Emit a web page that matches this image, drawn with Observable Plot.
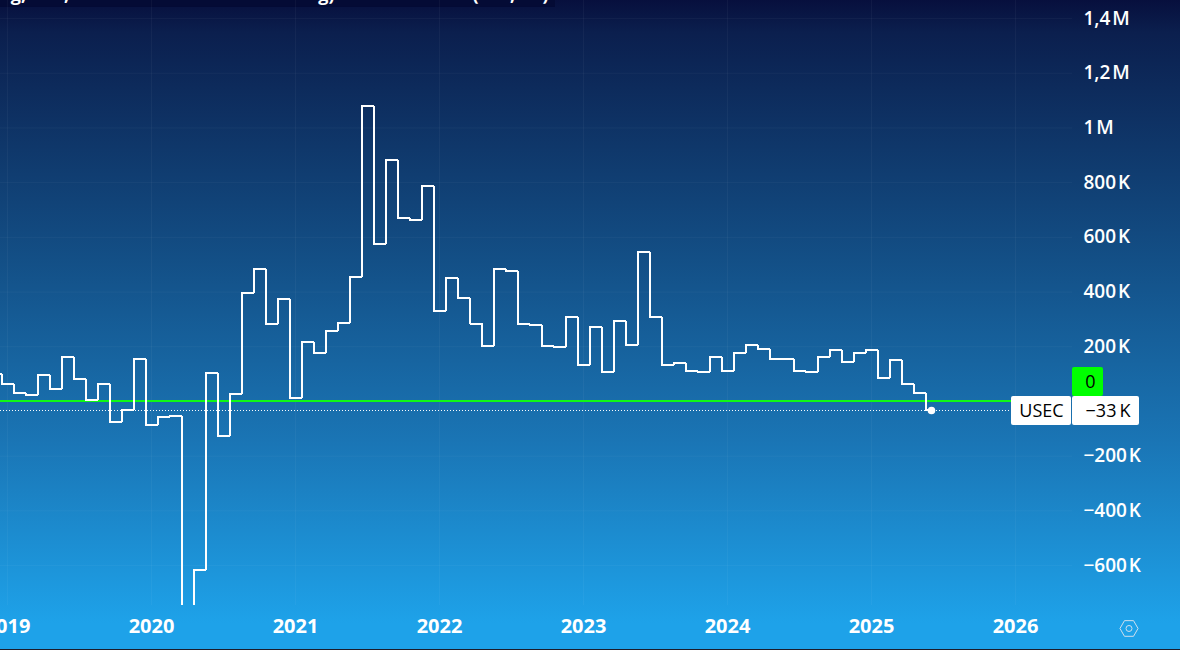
<!DOCTYPE html>
<html><head><meta charset="utf-8">
<script src="https://cdn.jsdelivr.net/npm/d3@7"></script>
<script src="https://cdn.jsdelivr.net/npm/@observablehq/plot@0.6"></script>
<style>
html,body{margin:0;padding:0;background:#1c1c2a;overflow:hidden}
#c{width:1180px;height:649px;border-bottom:1px solid #1c1c2a}
svg{display:block}
</style></head><body><div id="c"></div>
<script>
const startMonth = "2018-12";
const valuesK = [102,64,31,22,98,44,161,81,4,64,-75,-33,157,
 -85,-55,-52,-1200,-617,103,-128,27,396,486,282,376,
 12,216,176,257,286,455,1082,575,882,669,665,789,
 329,451,380,285,204,486,478,282,278,202,198,307,
 132,274,106,293,208,545,307,135,139,113,106,161,
 113,176,208,191,157,157,113,106,161,187,146,176,
 187,84,150,63,31,-33];
const yearLabels = ["2019","2020","2021","2022","2023","2024","2025","2026"];
const yTicks = [-600,-400,-200,200,400,600,800,1000,1200,1400];
const yLabels = ["−600\u200aK","−400\u200aK","−200\u200aK","200\u200aK","400\u200aK","600\u200aK","800\u200aK","1\u200aM","1,2\u200aM","1,4\u200aM"];
const seriesName = "USEC", lastLabel = "−33\u2009K", zeroLabel = "0";
const clippedTitleBits = [["g,",18],[",",66],["g)",326],["(",475],[",",512],[")",545]];

const W = 1180, H = 649, axisX = 1072, bottom = 605;
// month index i (0 = Dec 2018)
const rows = valuesK.map((v,i)=>({i,v}));
const yearIdx = k => k*12+1;
const yearTicks = yearLabels.map((d,k)=>yearIdx(k));
const lastIdx = rows.length-1, lastV = valuesK[lastIdx];
const xDomain = [1-7/12, 1+(axisX-7)/12];
const yDomain = [-746,1466];
const px = p => 1+(p-7)/12;             // screen x -> month index, for the price-scale chrome
const py = p => (401-p)*200/54.7;       // screen y -> value, for the price-scale chrome
const font = "'Open Sans', sans-serif";
const hexagon = {draw(ctx,size){const r=Math.sqrt(size);for(let k=0;k<6;k++){const a=k*Math.PI/3,x=r*Math.cos(a),y=r*Math.sin(a);k?ctx.lineTo(x,y):ctx.moveTo(x,y);}ctx.closePath();}};

const plot = Plot.plot({
  width:W,height:H,marginLeft:0,marginRight:W-axisX,marginTop:0,marginBottom:H-bottom,
  style:{background:"linear-gradient(180deg,#070f3d 0%,#0b1f4e 5%,#134f86 40%,#1a75b5 68%,#1ea2e9 96%,#1ea2e9 100%)",fontFamily:font,overflow:"hidden"},
  x:{type:"linear",domain:xDomain,axis:null},
  y:{type:"linear",domain:yDomain,axis:null},
  marks:[
    Plot.rect([0],{x1:xDomain[0],x2:px(555),y1:py(0),y2:py(7),fill:"#040b35"}),
    Plot.gridX(yearTicks,{stroke:"#fff",strokeOpacity:0.04,strokeWidth:1}),
    Plot.gridY([...yTicks,0],{stroke:"#fff",strokeOpacity:0.04,strokeWidth:1}),
    Plot.text(clippedTitleBits,{x:d=>px(d[1]),y:py(0.5),text:d=>d[0],fill:"#fff",fontSize:18,fontWeight:700,textAnchor:"middle",lineAnchor:"bottom"}),
    Plot.ruleY([0],{stroke:"#10f815",strokeWidth:2,x1:xDomain[0],x2:px(1011),dy:-0.5,shapeRendering:"crispEdges"}),
    Plot.ruleY([lastV],{stroke:"#fff",strokeWidth:1,strokeDasharray:"1 2",x1:xDomain[0],x2:px(1011)}),
    Plot.line(rows,{x:"i",y:"v",curve:"step",stroke:"#fff",strokeWidth:2,clip:true,strokeLinejoin:"miter",shapeRendering:"crispEdges"}),
    Plot.dot([rows[lastIdx]],{x:"i",y:"v",r:3.8,fill:"#fff",stroke:"none"}),
    Plot.axisX(yearTicks,{anchor:"bottom",tickSize:0,tickPadding:13,tickFormat:(d,i)=>yearLabels[i],fill:"#fff",fontSize:20,fontWeight:700,label:null}),
    Plot.axisY(yTicks,{anchor:"right",tickSize:0,tickPadding:11,tickFormat:(d,i)=>yLabels[i],fill:"#fff",fontSize:19,fontWeight:600,textAnchor:"start",label:null}),
    Plot.rect([0],{x1:px(1011),x2:px(1071),y1:py(396),y2:py(425),fill:"#fff",rx:2,clip:false}),
    Plot.rect([0],{x1:px(1072),x2:px(1139),y1:py(396),y2:py(425),fill:"#fff",rx:2,clip:false}),
    Plot.rect([0],{x1:px(1072),x2:px(1103),y1:py(367),y2:py(396),fill:"#0f0",rx:2,clip:false}),
    Plot.text([seriesName],{x:px(1041),y:py(410.5),text:d=>d,fill:"#000",fontSize:18,fontWeight:500}),
    Plot.text([lastLabel],{x:px(1107.5),y:py(410.5),text:d=>d,fill:"#000",fontSize:18,fontWeight:500}),
    Plot.text([zeroLabel],{x:px(1090),y:py(381.5),text:d=>d,fill:"#000",fontSize:18,fontWeight:500}),
    Plot.dot([0],{x:px(1128.5),y:py(628),symbol:hexagon,r:5.1,stroke:"#cfe0ee",strokeWidth:1,fill:"none"}),
    Plot.dot([0],{x:px(1128.5),y:py(628),r:3,stroke:"#cfe0ee",strokeWidth:1,fill:"none"})
  ]
});
document.getElementById("c").append(plot);
</script></body></html>
